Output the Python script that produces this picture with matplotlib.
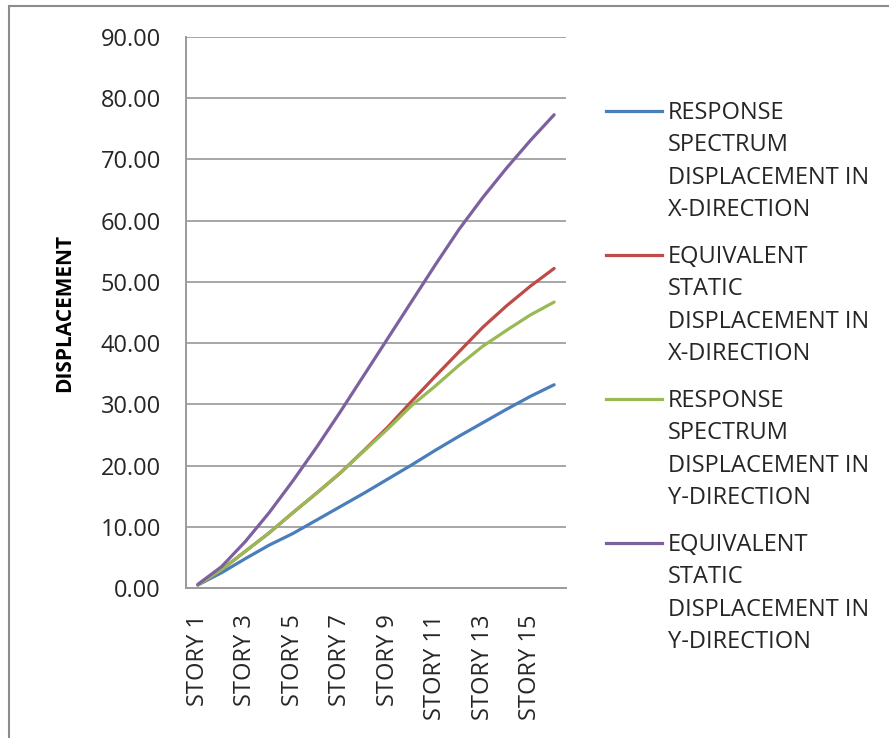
import matplotlib
matplotlib.use("Agg")
import matplotlib.pyplot as plt
from matplotlib.lines import Line2D
from matplotlib.patches import Rectangle

plt.rcParams['font.family'] = ['Open Sans', 'DejaVu Sans']

stories = ["STORY %d" % i for i in range(1, 17)]
rs_x = [0.5, 2.5, 4.8, 7.0, 8.9, 11.1, 13.3, 15.5, 17.8, 20.1, 22.5, 24.8, 27.0, 29.2, 31.3, 33.2]
es_x = [0.5, 3.0, 6.0, 9.0, 12.3, 15.5, 18.8, 22.5, 26.3, 30.5, 34.6, 38.6, 42.6, 46.1, 49.3, 52.2]
rs_y = [0.5, 3.0, 6.0, 9.0, 12.3, 15.5, 18.8, 22.4, 26.0, 29.8, 33.0, 36.4, 39.5, 42.1, 44.6, 46.7]
es_y = [0.6, 3.5, 7.6, 12.3, 17.5, 23.0, 28.8, 34.8, 40.8, 46.8, 52.8, 58.6, 63.8, 68.6, 73.1, 77.3]

series = [rs_x, es_x, rs_y, es_y]
names = ["RESPONSE\nSPECTRUM\nDISPLACEMENT IN\nX-DIRECTION",
         "EQUIVALENT\nSTATIC\nDISPLACEMENT IN\nX-DIRECTION",
         "RESPONSE\nSPECTRUM\nDISPLACEMENT IN\nY-DIRECTION",
         "EQUIVALENT\nSTATIC\nDISPLACEMENT IN\nY-DIRECTION"]
colors = ["#4A7EBB", "#BE4B48", "#98B954", "#7D60A0"]
yticks = [0, 10, 20, 30, 40, 50, 60, 70, 80, 90]

W, H = 889, 738
fig = plt.figure(figsize=(W / 100, H / 100), dpi=100)
ax = fig.add_axes([186 / W, 1 - 588 / H, 380 / W, 551 / H])

x = list(range(len(stories)))
for vals, c in zip(series, colors):
    ax.plot(x, vals, color=c, lw=2.3, solid_capstyle='round', solid_joinstyle='round')

ax.set_xlim(-0.5, 15.5)
ax.set_ylim(0, 90)
ax.set_yticks(yticks)
ax.set_yticklabels(["%.2f" % v for v in yticks])
ax.set_xticks(x[::2])
ax.set_xticklabels(stories[::2], rotation=90, va='top', ha='center')
ax.tick_params(axis='both', length=0, labelsize=17, colors='#262626')
ax.tick_params(axis='y', pad=18)
ax.tick_params(axis='x', pad=19)
ax.grid(axis='y', color='#a6a6a6', lw=1.4)
ax.set_axisbelow(True)
for s in ['top', 'right']:
    ax.spines[s].set_visible(False)
for s in ['left', 'bottom']:
    ax.spines[s].set_color('#9a9a9a')
    ax.spines[s].set_linewidth(1.4)

ax.set_ylabel("DISPLACEMENT", fontsize=15, fontweight='bold')
ax.yaxis.set_label_coords(-0.292, 0.5)

# legend, handles aligned with first line of each label
for i, (name, c) in enumerate(zip(names, colors)):
    yc = 111 + i * 144
    fig.add_artist(Line2D([606 / W, 662 / W], [1 - yc / H, 1 - yc / H],
                          color=c, lw=2.3, transform=fig.transFigure))
    fig.text(668 / W, 1 - (yc - 10) / H, name, fontsize=17, va='top',
             ha='left', linespacing=1.47, color='#262626')

# outer frame
fig.add_artist(Rectangle((9 / W, -0.1), 1.2, 1.1 - 6 / H, fill=False,
                         edgecolor='#8c8c8c', lw=1.5, transform=fig.transFigure))

fig.savefig("out.png", dpi=100)
